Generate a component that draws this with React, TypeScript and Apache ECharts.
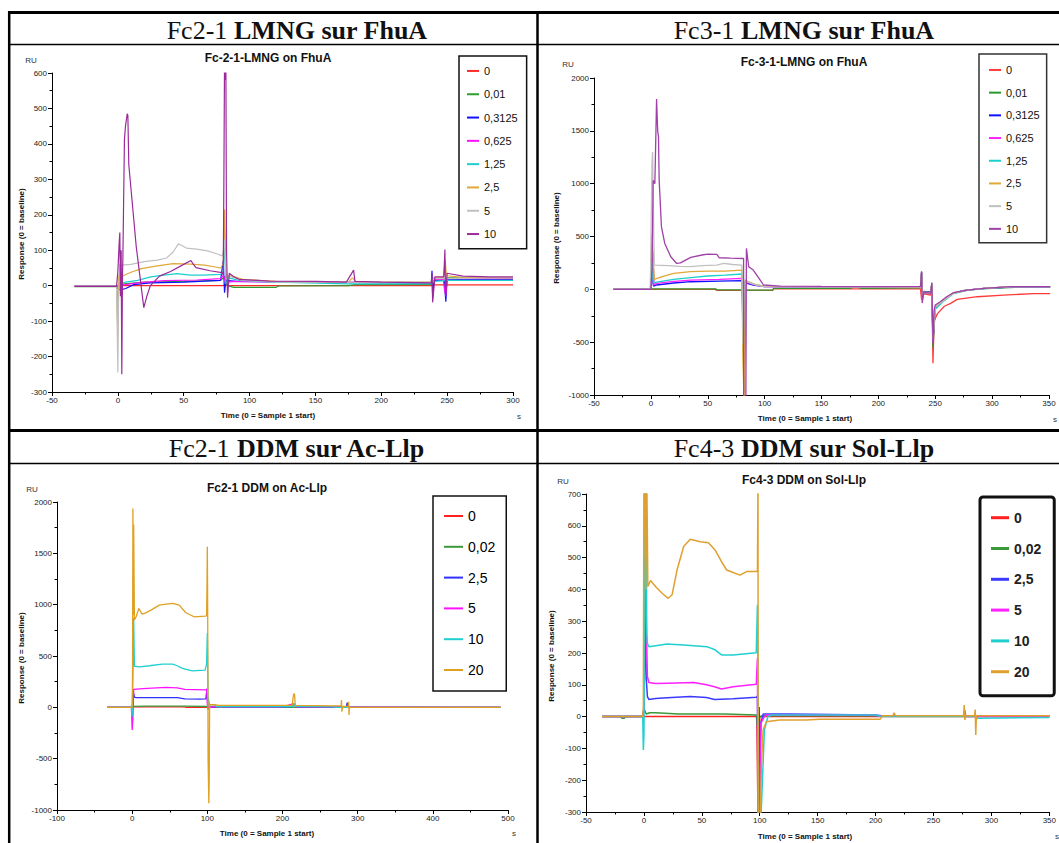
import React, { useEffect, useRef } from 'react';
import * as echarts from 'echarts';

const SANS = 'Liberation Sans, Arial, sans-serif';
const SERIF = 'Liberation Serif, Times New Roman, serif';

// ---------- Panel A : Fc-2-1-LMNG on FhuA ----------
const A_NAMES = ['0', '0,01', '0,3125', '0,625', '1,25', '2,5', '5', '10'];
const A_COLORS = ['#ff2a2a', '#2e9e2e', '#1010ff', '#ff10ff', '#1ccfcf', '#e0a838', '#c0c0c0', '#9a2a9a'];
const A_0 = [[-33, -2], [-1, -2], [0, 0], [80, 0], [81, 2], [83, 0], [238, 0], [240, 2], [300, 2]];
const A_001 = [[-33, -3], [-1, -3], [0, 0], [5, 5], [20, 10], [50, 12], [78, 15], [81, 25], [83, 0], [88, -5], [120, -5], [122, -1], [175, 0], [180, 3], [238, 3], [240, 18], [248, 20], [250, 22], [300, 22]];
const A_03125 = [[-33, -2], [-1, -2], [0, -8], [2, -12], [6, -8], [12, 3], [25, 8], [50, 10], [78, 15], [80, 70], [81, -20], [82, 15], [90, 12], [150, 10], [238, 8], [238.5, 42], [239, -35], [240, 15], [248, 15], [248.5, -20], [249, -45], [250, 18], [300, 18]];
const A_0625 = [[-33, -2], [-1, -2], [0, -5], [4, 2], [15, 8], [35, 14], [60, 16], [78, 20], [80, 28], [82, 10], [90, 12], [150, 10], [238, 8], [240, 18], [247, 18], [248, -12], [249, -28], [250, 20], [300, 20]];
const A_125 = [[-33, -2], [-1, -2], [0, -40], [1, 5], [6, 10], [15, 15], [25, 25], [35, 30], [45, 34], [55, 30], [65, 30], [78, 32], [80, 40], [81, 125], [82, 5], [84, 22], [92, 15], [120, 10], [175, 5], [238, 5], [240, 12], [250, 15], [300, 15]];
const A_25 = [[-33, -2], [-1, -2], [0, -145], [0.5, 20], [1.5, 40], [4, 28], [10, 38], [18, 48], [30, 56], [42, 62], [55, 61], [66, 58], [75, 52], [78, 50], [80, 62], [81, 215], [82, 25], [86, 28], [95, 18], [120, 12], [175, 10], [178, 22], [181, 10], [238, 10], [240, 22], [247, 22], [248.5, 72], [249.5, 28], [260, 24], [300, 22]];
const A_5 = [[-33, -2], [-1, -2], [0, -245], [0.5, -50], [1.5, 60], [3, 58], [10, 60], [20, 68], [30, 72], [37, 78], [42, 95], [46, 118], [52, 106], [60, 103], [68, 98], [75, 90], [79, 84], [80, 95], [81, 130], [82, 30], [86, 25], [95, 15], [120, 10], [238, 10], [240, 20], [300, 22]];
const A_10 = [[-33, -2], [-1, -2], [0, 40], [1, 120], [1.5, 150], [2, -30], [2.5, 100], [3, -250], [3.5, 30], [3.8, 74], [5, 412], [5.8, 450], [7.1, 485], [7.6, 480], [8.3, 342], [13.9, 112], [19.7, -62], [22, -30], [24.7, 0], [31.6, 27], [40, 40], [50, 60], [55.5, 71], [57, 62], [59.3, 51], [70, 42], [79, 37], [80, 30], [80.5, 300], [81, 640], [81.5, 580], [82, 640], [82.5, 100], [83.3, -34], [84.6, 35], [88, 25], [92, 18], [115, 13], [150, 12], [173.5, 10], [179, 44], [180, 12], [200, 10], [238, 8], [238.5, 35], [239, -47], [240.7, 25], [247.5, 25], [248.3, 102], [248.8, -30], [250, 35], [262, 27], [282, 25], [300, 25]];
const A_DATA = [A_0, A_001, A_03125, A_0625, A_125, A_25, A_5, A_10];

// ---------- Panel B : Fc-3-1-LMNG on FhuA ----------
const B_NAMES = ['0', '0,01', '0,3125', '0,625', '1,25', '2,5', '5', '10'];
const B_COLORS = ['#ff3a3a', '#2a9a2a', '#1010ff', '#ff20ff', '#1ccfcf', '#e0a838', '#c0c0c0', '#a040a8'];
const B_0 = [[-33, 0], [0, 0], [57, 0], [57.5, -10], [80, -10], [81, -60], [82, -10], [107, -10], [108, 5], [237, 5], [238, -100], [239, -40], [246, -55], [247, 30], [248, -700], [249, -300], [252, -230], [258, -160], [263.5, -133], [269.3, -95], [287, -70], [310, -55], [336, -40], [351, -40]];
const B_001 = [[-33, 0], [0, 0], [1, 5], [57, 5], [58, -5], [80, -5], [81, -20], [82, -8], [107, -8], [108, 10], [175, 10], [180, 25], [185, 10], [237, 15], [238, 150], [238.5, -80], [240, -20], [246, -25], [247, 40], [248, -550], [250, -180], [256, -110], [265, -40], [275, -10], [290, 5], [320, 18], [351, 20]];
const B_03125 = [[-33, 0], [0, 0], [1, 60], [2, 300], [2.5, 30], [5, 41], [20, 60], [35, 72], [60, 78], [80, 82], [81, -200], [82, -900], [83, 60], [90, 40], [100, 25], [237, 20], [238, 160], [238.5, -90], [240, -25], [246, -30], [247, 50], [248, -480], [250, -170], [256, -110], [266, -35], [278, -8], [293, 9], [316, 22], [351, 22]];
const B_0625 = [[-33, 0], [0, 0], [1, 80], [2, 350], [2.5, 40], [5, 57], [20, 75], [35, 88], [60, 95], [80, 104], [81, -300], [82, -950], [83, 70], [90, 45], [100, 25], [237, 20], [238, 165], [238.5, -95], [240, -28], [246, -32], [247, 55], [248, -500], [250, -160], [256, -112], [266, -34], [278, -8], [293, 9], [316, 24], [351, 24]];
const B_125 = [[-33, 0], [0, 0], [1, 100], [1.5, 260], [2.5, 60], [5, 69], [20, 94], [35, 110], [50, 126], [65, 135], [80, 145], [81, -400], [82, -950], [83, 80], [90, 50], [100, 28], [237, 20], [238, 165], [238.5, -95], [240, -28], [246, -32], [247, 55], [248, -450], [250, -190], [256, -125], [266, -40], [278, -10], [293, 8], [316, 23], [351, 23]];
const B_25 = [[-33, 0], [-0.5, 0], [0, 100], [1, 528], [2, 300], [3, 94], [10, 120], [20, 151], [35, 167], [50, 173], [65, 173], [80, 182], [81, -700], [82, -1050], [83, 90], [86, 70], [92, 45], [100, 28], [237, 20], [238, 160], [238.5, -95], [240, -28], [246, -32], [247, 55], [248, -450], [250, -170], [256, -115], [266, -36], [278, -8], [293, 9], [316, 25], [351, 25]];
const B_5 = [[-33, 0], [-0.5, 0], [0, 400], [1, 1200], [1.5, 1300], [2, 900], [3, 230], [15, 225], [25, 218], [35, 214], [45, 225], [58, 230], [64, 245], [72, 235], [80, 230], [81, -525], [82, 50], [85, 72], [92, 45], [100, 25], [237, 20], [238, 160], [238.5, -95], [240, -28], [246, -32], [247, 55], [248, -470], [250, -165], [256, -115], [266, -34], [278, -8], [293, 9], [316, 25], [351, 25]];
const B_10 = [[-33, 0], [0, 0], [1, 182], [2, 1031], [3.5, 1000], [4.4, 1472], [5, 1800], [6, 1500], [6.7, 1440], [7.3, 1031], [9.3, 591], [12.2, 434], [17.5, 308], [22.7, 245], [26, 250], [35, 302], [45, 325], [50, 333], [58, 330], [60, 299], [70, 295], [81.5, 292], [81.6, -1050], [83.5, -1050], [84, 387], [86, 214], [90, 182], [94, 120], [99, 41], [114, 31], [150, 28], [200, 25], [237, 25], [238, 170], [238.5, -130], [240, -30], [246, -35], [247, 65], [247.5, -200], [248, -510], [249, -200], [250, -149], [254.4, -118], [260, -70], [266, -32], [278, -7], [292.8, 9], [315.8, 25], [351, 25]];
const B_DATA = [B_0, B_001, B_03125, B_0625, B_125, B_25, B_5, B_10];

// ---------- Panel C : Fc2-1 DDM on Ac-Llp ----------
const C_NAMES = ['0', '0,02', '2,5', '5', '10', '20'];
const C_COLORS = ['#ff2020', '#3a9a3a', '#3030ff', '#ff10ff', '#20d0d0', '#e0a020'];
const C_0 = [[-33, 0], [0, 0], [1, 8], [5, 5], [70, 5], [71, 0], [100, 0], [101, -10], [103, 0], [490, 0]];
const C_002 = [[-33, 0], [0, 0], [1, 10], [20, 12], [70, 12], [100, 8], [101, -20], [103, 0], [490, 0]];
const C_25 = [[-33, 0], [0, 0], [1, 60], [2, 135], [3, 100], [5, 94], [30, 94], [60, 94], [70, 82], [90, 80], [98, 82], [99, 145], [100, 100], [101, 0], [110, 5], [118, 12], [122, 5], [200, 5], [212, 8], [216, 25], [220, 5], [250, 3], [285, 3], [286, 45], [287, 0], [490, 0]];
const C_5 = [[-33, 0], [-1, 0], [0, -221], [1, -100], [2, 175], [10, 180], [20, 185], [45, 195], [60, 190], [70, 175], [98, 170], [99, 180], [100, 30], [101, 0], [110, 5], [200, 5], [215, 35], [218, 5], [245, 5], [490, 0]];
const C_10 = [[-33, 0], [-1, 0], [0, -91], [1, 300], [2, 870], [3, 400], [10, 395], [23, 405], [40, 420], [54, 421], [60, 405], [67, 379], [80, 356], [97, 362], [99, 420], [100, 723], [101, 100], [103, 25], [110, 25], [112, 8], [214, 8], [215, 40], [217, 10], [268, 5], [270, 0], [490, 0]];
const C_20 = [[-33, 0], [0, 0], [0.5, 300], [1, 1937], [1.5, 900], [2, 1780], [3, 850], [5.3, 882], [8.8, 964], [13.2, 908], [18, 920], [25, 947], [36, 996], [45, 1005], [54, 1012], [62.6, 996], [71.4, 921], [82.4, 882], [97, 888], [99, 890], [99.5, 1150], [100, 1564], [100.5, 900], [101, -500], [102, -935], [102.5, -700], [103, 25], [110, 25], [115, 20], [213, 20], [214, 90], [215, 130], [216, 130], [217, 20], [270, 15], [278, 15], [278.5, 71], [279, -43], [280, 10], [287.5, 10], [288, 55], [288.5, -75], [289, 0], [490, 0]];
const C_DATA = [C_0, C_002, C_25, C_5, C_10, C_20];

// ---------- Panel D : Fc4-3 DDM on Sol-Llp ----------
const D_NAMES = ['0', '0,02', '2,5', '5', '10', '20'];
const D_COLORS = ['#ff2020', '#3a9a3a', '#3a3aff', '#ff20ff', '#20d0d0', '#e0a030'];
const D_0 = [[-36, 0], [0, 0], [97.5, 0], [98.5, -320], [99.5, -320], [100, 0], [350, 0]];
const D_002 = [[-36, 0], [-20, 0], [-19, -5], [-17, -5], [-16, 0], [-1, 0], [0, 25], [2, 8], [5, 12], [10, 12], [30, 8], [70, 8], [97, 5], [98, -30], [99, -5], [102, 3], [205, 3], [350, 3]];
const D_25 = [[-36, 0], [-1, 0], [0, 20], [0.5, 150], [1, 325], [2, 120], [3, 63], [4.3, 54], [10, 57], [20, 59], [40, 63], [54, 60], [61, 54], [77, 56], [97, 61], [98, 65], [98.5, -320], [99.5, 30], [100, -150], [101, -20], [103, 8], [125, 8], [200, 5], [205, 3], [350, 3]];
const D_5 = [[-36, 0], [-1, 0], [0, 20], [0.5, 300], [1, 508], [2, 300], [3, 126], [4.3, 107], [10, 104], [20, 105], [43, 107], [54, 100], [61, 94], [67, 87], [77, 94], [97, 102], [98, 183], [98.5, -320], [100, -320], [101, -21], [104, 0], [106, 5], [195, 5], [205, 2], [276, 2], [277, 20], [278, 0], [350, 0]];
const D_10 = [[-36, 0], [-1, 0], [-0.5, -105], [0, -60], [0.5, 200], [1, 750], [1.7, 750], [2.5, 260], [2.9, 230], [4.3, 220], [20, 228], [34.3, 225], [54.3, 220], [61.4, 210], [67, 194], [77, 194], [97, 201], [98, 351], [98.5, 100], [99, -320], [101, -320], [102, -230], [104, -42], [107, 0], [110, 5], [200, 5], [205, 0], [276, 0], [277, 10], [278, 0], [287, 0], [288, -5], [350, -3]];
const D_20 = [[-36, 0], [-1, 0], [-0.5, 30], [0, 750], [1, 750], [1.5, 400], [2.5, 750], [3, 750], [3.4, 409], [5.7, 428], [10, 409], [15.7, 388], [20.9, 372], [24.3, 383], [28.6, 461], [34.3, 535], [40, 558], [48.6, 550], [55.7, 547], [61.4, 524], [67, 487], [71.4, 461], [77, 453], [82.9, 445], [88.6, 456], [97, 456], [98, 458], [98.5, 750], [98.6, -320], [100.5, -320], [101.4, -157], [102.9, -42], [105.7, -16], [117, -11], [140, -11], [152, -8], [204, -8], [206, 3], [215, 3], [216, 12], [217, 3], [276, 3], [276.5, 36], [277, -10], [278, 3], [285.5, 3], [286, 22], [286.5, -58], [287, 3], [350, 3]];
const D_DATA = [D_0, D_002, D_25, D_5, D_10, D_20];

// ---------- Axes ----------
const X_RANGES = [[-50, 300, 50], [-50, 350, 50], [-100, 500, 100], [-50, 350, 50]];
const Y_RANGES = [[-300, 600, 100], [-1000, 2000, 500], [-1000, 2000, 500], [-300, 700, 100]];
const PANEL_TITLES = ['Fc-2-1-LMNG on FhuA', 'Fc-3-1-LMNG on FhuA', 'Fc2-1 DDM on Ac-Llp', 'Fc4-3 DDM on Sol-Llp'];
const HEADERS = [['Fc2-1 ', 'LMNG sur FhuA'], ['Fc3-1 ', 'LMNG sur FhuA'], ['Fc2-1 ', 'DDM sur Ac-Llp'], ['Fc4-3 ', 'DDM sur Sol-Llp']];

const GRIDS = [
  { left: 52, top: 73, width: 461, height: 319 },
  { left: 594, top: 78, width: 455, height: 317 },
  { left: 57, top: 502, width: 451, height: 308 },
  { left: 586, top: 494, width: 466, height: 318 },
];

function buildOption() {
  const panels = [
    { key: 'A', names: A_NAMES, colors: A_COLORS, data: A_DATA, width: 1.2 },
    { key: 'B', names: B_NAMES, colors: B_COLORS, data: B_DATA, width: 1.3 },
    { key: 'C', names: C_NAMES, colors: C_COLORS, data: C_DATA, width: 1.3 },
    { key: 'D', names: D_NAMES, colors: D_COLORS, data: D_DATA, width: 1.5 },
  ];
  const series: any[] = [];
  panels.forEach((p, idx) => {
    p.names.forEach((n, i) => {
      series.push({
        type: 'line',
        name: p.key + '|' + n,
        xAxisIndex: idx,
        yAxisIndex: idx,
        data: p.data[i],
        showSymbol: false,
        symbol: 'none',
        clip: true,
        lineStyle: { color: p.colors[i], width: p.width },
        itemStyle: { color: p.colors[i] },
      });
    });
  });

  const plain = (v: number) => String(v);
  const axisCommon = {
    axisLine: { onZero: false, lineStyle: { color: '#000', width: 1 } },
    axisTick: { show: true, length: 4, lineStyle: { color: '#000' } },
    minorTick: { show: true, splitNumber: 2, length: 2.5, lineStyle: { color: '#000' } },
    splitLine: { show: false },
    minorSplitLine: { show: false },
  };
  const xAxis = X_RANGES.map((r, i) => ({
    type: 'value', gridIndex: i, min: r[0], max: r[1], interval: r[2], ...axisCommon,
    axisLabel: { fontSize: 8, color: '#222', margin: 4, fontFamily: SANS, showMinLabel: true, showMaxLabel: true, formatter: plain },
  }));
  const yAxis = Y_RANGES.map((r, i) => ({
    type: 'value', gridIndex: i, min: r[0], max: r[1], interval: r[2], ...axisCommon,
    axisLabel: { fontSize: 8, color: '#222', margin: 5, fontFamily: SANS, showMinLabel: true, showMaxLabel: true, formatter: plain },
  }));

  const fmt = (name: string) => name.split('|')[1];
  const legendBase = { orient: 'vertical', icon: 'rect', itemGap: 0, selectedMode: false, formatter: fmt, backgroundColor: '#fff' };
  const legend = [
    { ...legendBase, data: A_NAMES.map((n) => 'A|' + n), left: 459, top: 56, itemWidth: 12, itemHeight: 2, padding: [3.3, 9, 3, 8], borderColor: '#111', borderWidth: 1.5,
      textStyle: { fontSize: 11, lineHeight: 23.3, fontFamily: SANS, color: '#111' } },
    { ...legendBase, data: B_NAMES.map((n) => 'B|' + n), left: 979, top: 54, itemWidth: 12, itemHeight: 2, padding: [4.6, 7, 2.6, 10], borderColor: '#333', borderWidth: 1.5,
      textStyle: { fontSize: 11, lineHeight: 22.7, fontFamily: SANS, color: '#111' } },
    { ...legendBase, data: C_NAMES.map((n) => 'C|' + n), left: 433, top: 496, itemWidth: 19, itemHeight: 2, padding: [4.6, 11, 5.6, 11], borderColor: '#111', borderWidth: 1.5,
      textStyle: { fontSize: 14, lineHeight: 30.8, fontFamily: SANS, color: '#000' } },
    { ...legendBase, data: D_NAMES.map((n) => 'D|' + n), left: 980, top: 497, itemWidth: 18, itemHeight: 3, padding: [5.3, 13, 8.6, 11], borderColor: '#111', borderWidth: 3, borderRadius: 3,
      textStyle: { fontSize: 14, fontWeight: 'bold', lineHeight: 30.8, fontFamily: SANS, color: '#222' } },
  ];

  const txt = (x: number, y: number, text: string, size: number, extra: any = {}) => ({
    type: 'text', x, y, silent: true,
    style: { text, fontSize: size, fontFamily: SANS, fill: '#111', align: 'center', verticalAlign: 'middle', textAlign: 'center', textVerticalAlign: 'middle', ...extra },
  });
  const line = (x1: number, y1: number, x2: number, y2: number, w: number) => ({
    type: 'line', silent: true, shape: { x1, y1, x2, y2 }, style: { stroke: '#000', lineWidth: w },
  });

  const headerPos = [[297, 30], [804, 30], [297, 448], [804, 448]];
  const subPos = [[268, 58], [804, 62], [267, 488], [804, 480]];
  const ruPos = [[31, 60], [568, 64], [32, 489], [563, 481]];
  const yNamePos = [[21, 234], [556, 238], [21, 658], [551, 656]];
  const xNamePos = [[268, 415], [805, 418], [267, 833], [805, 836]];
  const sPos = [[519, 416], [1055, 419], [514, 833], [1057, 836]];

  const graphic: any[] = [
    line(8, 12.5, 1059, 12.5, 3),
    line(9.2, 11, 9.2, 843, 2.5),
    line(9, 44.5, 1059, 44.5, 1.5),
    line(537.5, 11, 537.5, 843, 2.5),
    line(9, 430.5, 1059, 430.5, 3),
    line(9, 463.5, 1059, 463.5, 1.5),
  ];
  HEADERS.forEach((h, i) => {
    graphic.push({
      type: 'text', x: headerPos[i][0], y: headerPos[i][1], silent: true,
      style: {
        text: '{r|' + h[0] + '}{b|' + h[1] + '}',
        align: 'center', verticalAlign: 'middle', textAlign: 'center', textVerticalAlign: 'middle',
        rich: {
          r: { fontFamily: SERIF, fontSize: 26, fill: '#111', color: '#111' },
          b: { fontFamily: SERIF, fontSize: 26, fontWeight: 'bold', fill: '#111', color: '#111' },
        },
      },
    });
    graphic.push(txt(subPos[i][0], subPos[i][1], PANEL_TITLES[i], 12, { fontWeight: 'bold' }));
    graphic.push(txt(ruPos[i][0], ruPos[i][1], 'RU', 8, { fill: '#333' }));
    graphic.push({ ...txt(yNamePos[i][0], yNamePos[i][1], 'Response (0 = baseline)', 8, { fontWeight: 'bold' }), rotation: Math.PI / 2 });
    graphic.push(txt(xNamePos[i][0], xNamePos[i][1], 'Time (0 = Sample 1 start)', 8, { fontWeight: 'bold' }));
    graphic.push(txt(sPos[i][0], sPos[i][1], 's', 8, { fill: '#333' }));
  });

  return {
    animation: false,
    backgroundColor: '#fff',
    grid: GRIDS.map((g) => ({ ...g, containLabel: false })),
    xAxis,
    yAxis,
    legend,
    series,
    graphic,
  };
}

export default function App() {
  const ref = useRef<HTMLDivElement>(null);
  useEffect(() => {
    const chart = echarts.init(ref.current as HTMLDivElement, null, { renderer: 'svg' });
    chart.setOption(buildOption() as any);
    return () => chart.dispose();
  }, []);
  return <div ref={ref} style={{ position: 'absolute', left: 0, top: 0, width: 1059, height: 843, background: '#fff' }} />;
}
